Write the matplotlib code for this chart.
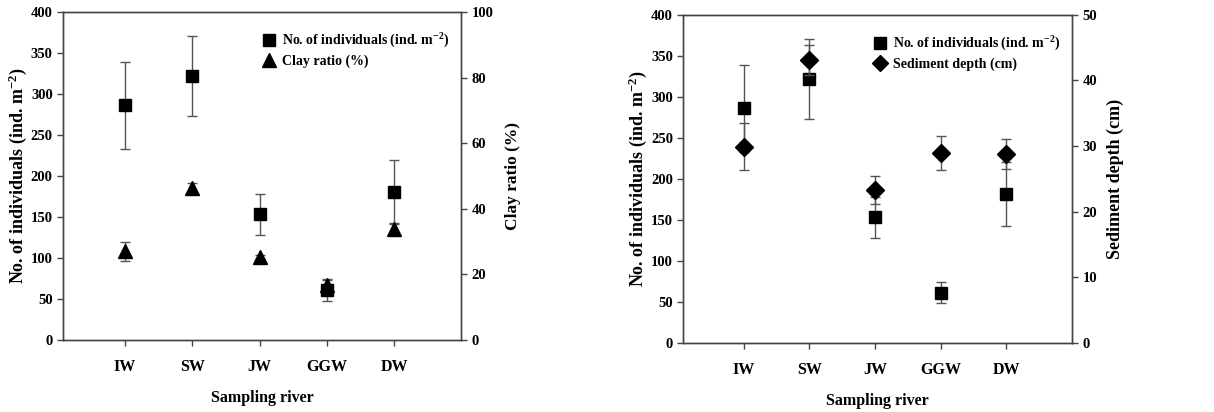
import matplotlib
matplotlib.use("Agg")
import matplotlib.pyplot as plt
from matplotlib.lines import Line2D

plt.rcParams["font.family"] = ["Liberation Serif", "DejaVu Serif"]
plt.rcParams["font.weight"] = "bold"
plt.rcParams["mathtext.fontset"] = "custom"
plt.rcParams["mathtext.rm"] = "Liberation Serif:bold"
plt.rcParams["mathtext.it"] = "Liberation Serif:bold"
plt.rcParams["mathtext.bf"] = "Liberation Serif:bold"

# data
rivers = ["IW", "SW", "JW", "GGW", "DW"]
individuals = [286, 322, 153, 61, 181]
individuals_err = [53, 49, 25, 13, 39]
clay_ratio = [27.0, 46.2, 25.2, 16.8, 33.9]
clay_err = [3.0, 1.5, 0.6, 1.5, 1.5]
sediment_depth = [29.9, 43.1, 23.3, 29.0, 28.8]
depth_err = [3.6, 2.3, 2.2, 2.6, 2.3]

xpos = list(range(1, len(rivers) + 1))
ERR = "#555555"
LAB_IND = "No. of individuals (ind. m$^{-2}$)"
YLABEL_FS = 12.5
TICK_FS = 10.5
CAP = 3.7


def style_axes(ax, ax2, left_x, right_x, xlab_y):
    for a in (ax, ax2):
        for s in a.spines.values():
            s.set_color("#444444")
            s.set_linewidth(1.0)
        a.tick_params(direction="out", length=4, width=1, colors="#444444",
                      labelcolor="black", labelsize=TICK_FS)
    ax.set_xlim(0.08, 6.0)
    ax.set_xticks(xpos)
    ax.set_xticklabels(rivers, fontsize=11.5, fontweight="bold")
    ax.tick_params(axis="x", pad=10)
    ax.set_ylim(0, 400)
    ax.set_yticks(range(0, 401, 50))
    ax.set_xlabel("Sampling river", fontsize=11.5, fontweight="bold")
    ax.set_ylabel(LAB_IND, fontsize=13, fontweight="bold")
    ax.xaxis.set_label_coords(0.5, xlab_y)
    ax.yaxis.set_label_coords(left_x, 0.5)
    ax2.yaxis.set_label_coords(right_x, 0.5)
    for t in ax.get_yticklabels() + ax2.get_yticklabels():
        t.set_fontweight("bold")


def add_legend(ax, handles, labels):
    ax.legend(handles, labels, loc="upper right", bbox_to_anchor=(0.99, 0.965),
              frameon=False, fontsize=10, handletextpad=0.3, borderaxespad=0.2,
              labelspacing=0.3, handlelength=1.2)


fig = plt.figure(figsize=(12.14, 4.12), dpi=100)
ax1 = fig.add_axes([0.052, 0.175, 0.328, 0.796])
ax1b = ax1.twinx()
ax2 = fig.add_axes([0.563, 0.168, 0.320, 0.796])
ax2b = ax2.twinx()

# ── Left panel: individuals + clay ratio ────────────────────────────────────
ax1.errorbar(xpos, individuals, yerr=individuals_err, fmt="s", color="black",
             ms=9, ecolor=ERR, elinewidth=1, capsize=CAP, capthick=1, zorder=3)
ax1b.errorbar(xpos, clay_ratio, yerr=clay_err, fmt="^", color="black",
              ms=10, ecolor=ERR, elinewidth=1, capsize=CAP, capthick=1, zorder=3)
ax1b.set_ylim(0, 100)
ax1b.set_yticks(range(0, 101, 20))
ax1b.set_ylabel("Clay ratio (%)", fontsize=YLABEL_FS, fontweight="bold")
style_axes(ax1, ax1b, -0.085, 1.11, -0.152)
add_legend(ax1b,
           [Line2D([], [], marker="s", ls="", color="black", ms=8.5),
            Line2D([], [], marker="^", ls="", color="black", ms=9.5)],
           [LAB_IND, "Clay ratio (%)"])

# ── Right panel: individuals + sediment depth ───────────────────────────────
ax2.errorbar(xpos, individuals, yerr=individuals_err, fmt="s", color="black",
             ms=9, ecolor=ERR, elinewidth=1, capsize=CAP, capthick=1, zorder=3)
ax2b.errorbar(xpos, sediment_depth, yerr=depth_err, fmt="D", color="black",
              ms=9, ecolor=ERR, elinewidth=1, capsize=CAP, capthick=1, zorder=3)
ax2b.set_ylim(0, 50)
ax2b.set_yticks(range(0, 51, 10))
ax2b.set_ylabel("Sediment depth (cm)", fontsize=13, fontweight="bold")
style_axes(ax2, ax2b, -0.09, 1.09, -0.152)
add_legend(ax2b,
           [Line2D([], [], marker="s", ls="", color="black", ms=8.5),
            Line2D([], [], marker="D", ls="", color="black", ms=8)],
           [LAB_IND, "Sediment depth (cm)"])

fig.savefig("out.png", dpi=100, facecolor="white")
